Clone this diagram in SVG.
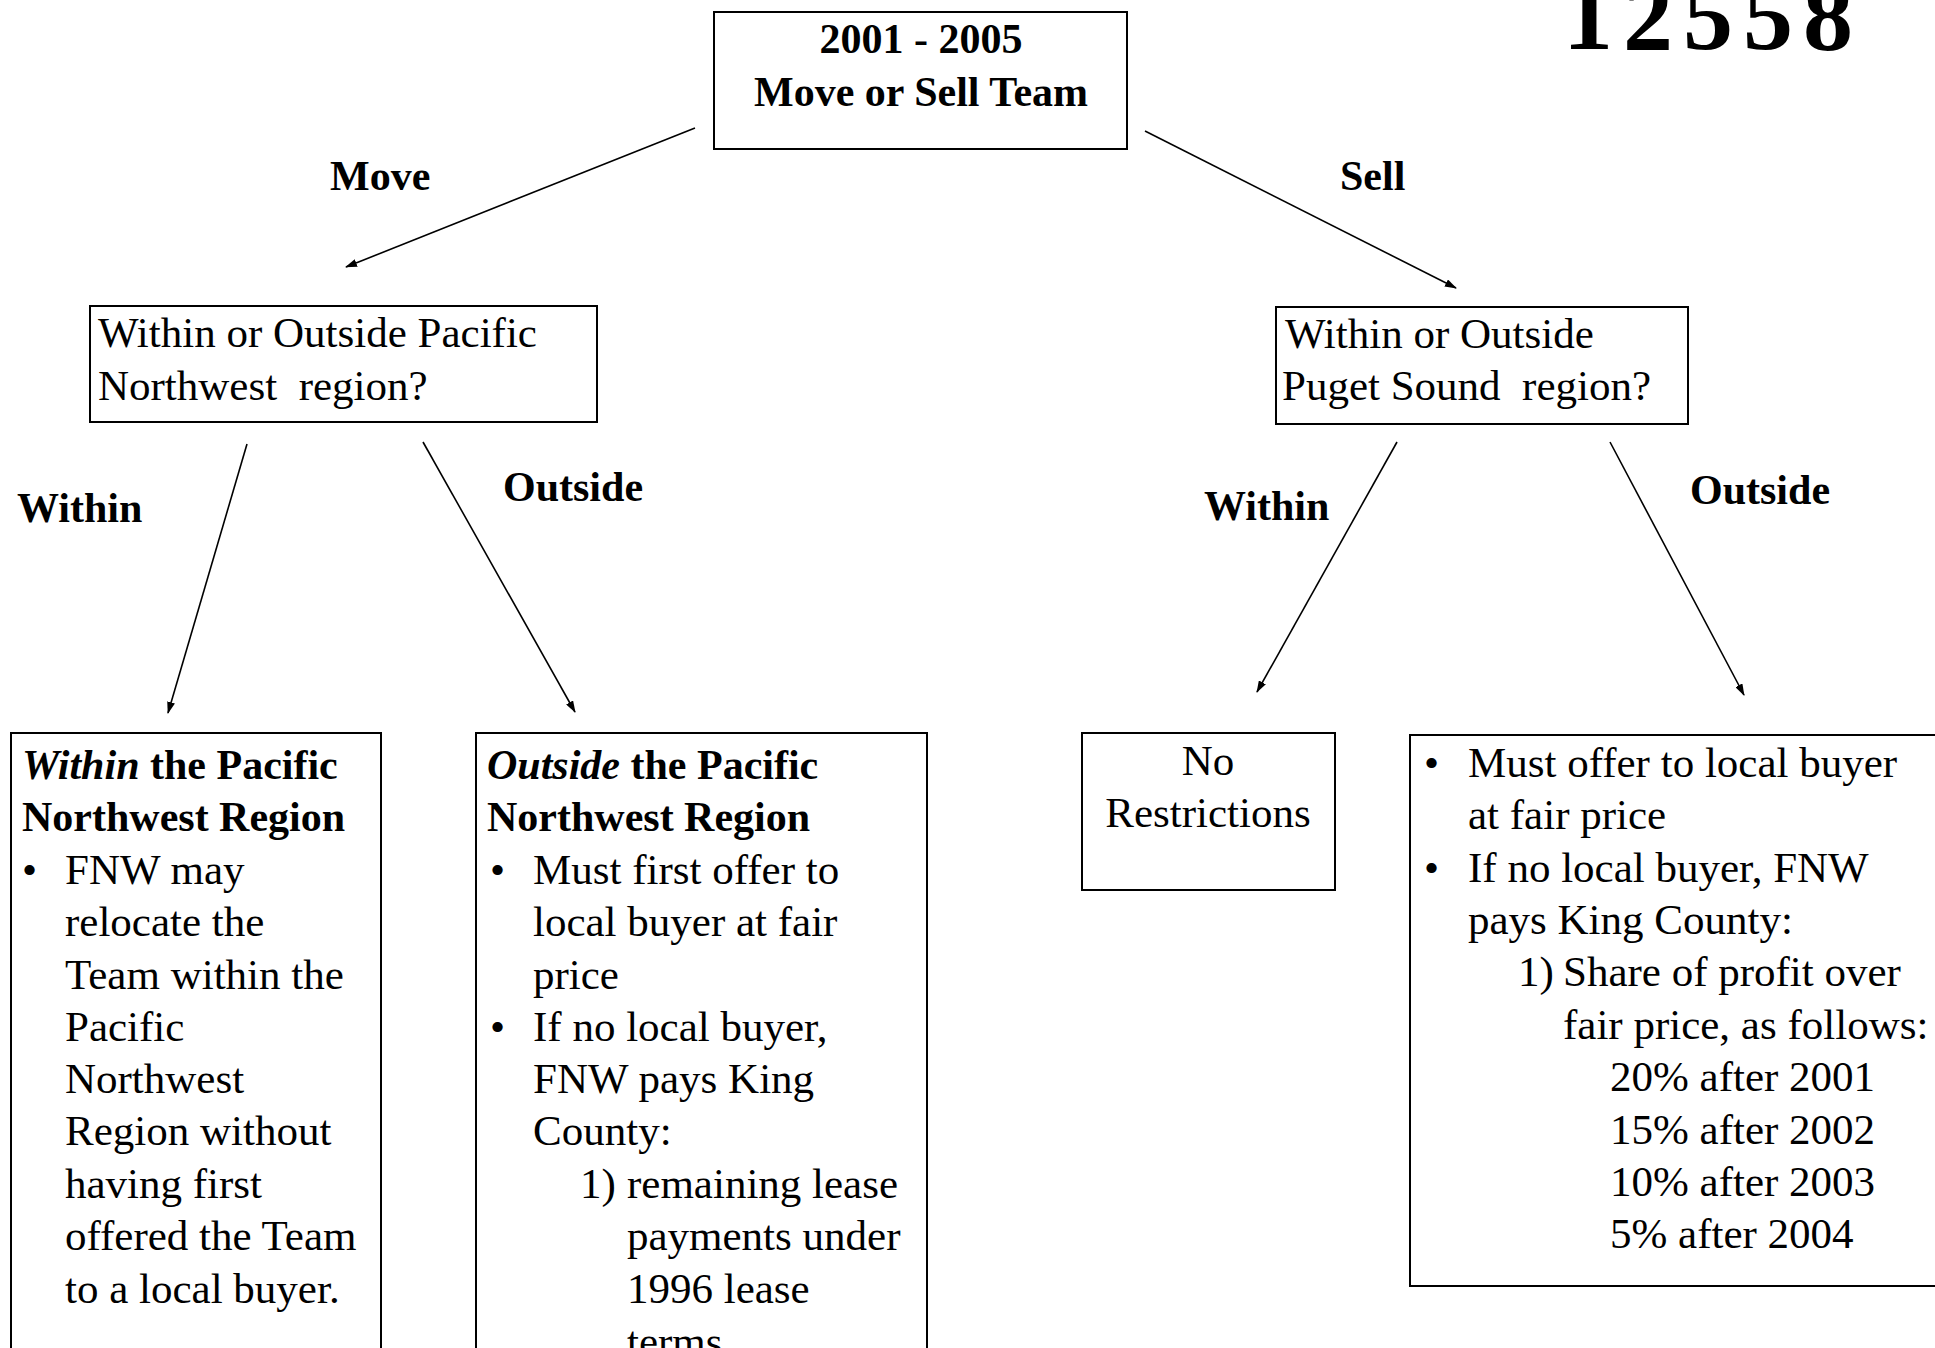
<svg xmlns="http://www.w3.org/2000/svg" width="1935" height="1348" viewBox="0 0 1935 1348">
<style>
.box{fill:none;stroke:#000;stroke-width:2}
.t{font-family:"Liberation Serif","Times New Roman",serif;font-size:43px;fill:#000}
.b{font-family:"Liberation Serif","Times New Roman",serif;font-size:42px;font-weight:bold;fill:#000}
.stamp{font-family:"Liberation Serif","Times New Roman",serif;font-size:100px;font-weight:bold;letter-spacing:10px;fill:#000}
.c{text-anchor:middle}
.conn line{stroke:#000;stroke-width:1.6}
</style>
<defs>
<marker id="ah" viewBox="0 0 12 8" refX="11" refY="4" markerWidth="12" markerHeight="8" markerUnits="userSpaceOnUse" orient="auto">
<path d="M0,0 L12,4 L0,8 z" fill="#000"/>
</marker>
</defs>
<rect width="1935" height="1348" fill="#fff"/>
<text class="stamp" x="1563" y="49">12558</text>

<g id="root">
<rect class="box" x="714" y="12" width="413" height="137"/>
<text class="b c" x="921" y="53">2001 - 2005</text>
<text class="b c" x="921" y="106">Move or Sell Team</text>
</g>

<g id="move-q">
<rect class="box" x="90" y="306" width="507" height="116"/>
<text class="t" x="98" y="347">Within or Outside Pacific</text>
<text class="t" x="98" y="400" xml:space="preserve">Northwest  region?</text>
</g>

<g id="sell-q">
<rect class="box" x="1276" y="307" width="412" height="117"/>
<text class="t" x="1285" y="348">Within or Outside</text>
<text class="t" x="1282" y="400" xml:space="preserve">Puget Sound  region?</text>
</g>

<g id="move-within">
<rect class="box" x="11" y="733" width="370" height="640"/>
<text class="b" x="22" y="779"><tspan font-style="italic">Within</tspan> the Pacific</text>
<text class="b" x="22" y="831">Northwest Region</text>
<text class="t" x="22" y="884">•</text>
<text class="t" x="65" y="884">FNW may</text>
<text class="t" x="65" y="936">relocate the</text>
<text class="t" x="65" y="989">Team within the</text>
<text class="t" x="65" y="1041">Pacific</text>
<text class="t" x="65" y="1093">Northwest</text>
<text class="t" x="65" y="1145">Region without</text>
<text class="t" x="65" y="1198">having first</text>
<text class="t" x="65" y="1250">offered the Team</text>
<text class="t" x="65" y="1303">to a local buyer.</text>
</g>

<g id="move-outside">
<rect class="box" x="476" y="733" width="451" height="640"/>
<text class="b" x="487" y="779"><tspan font-style="italic">Outside</tspan> the Pacific</text>
<text class="b" x="487" y="831">Northwest Region</text>
<text class="t" x="490" y="884">•</text>
<text class="t" x="533" y="884">Must first offer to</text>
<text class="t" x="533" y="936">local buyer at fair</text>
<text class="t" x="533" y="989">price</text>
<text class="t" x="490" y="1041">•</text>
<text class="t" x="533" y="1041">If no local buyer,</text>
<text class="t" x="533" y="1093">FNW pays King</text>
<text class="t" x="533" y="1145">County:</text>
<text class="t" x="580" y="1198">1)</text>
<text class="t" x="627" y="1198">remaining lease</text>
<text class="t" x="627" y="1250">payments under</text>
<text class="t" x="627" y="1303">1996 lease</text>
<text class="t" x="627" y="1356">terms</text>
</g>

<g id="sell-within">
<rect class="box" x="1082" y="733" width="253" height="157"/>
<text class="t c" x="1208" y="775">No</text>
<text class="t c" x="1208" y="827">Restrictions</text>
</g>

<g id="sell-outside">
<rect class="box" x="1410" y="735" width="540" height="551"/>
<text class="t" x="1424" y="777">•</text>
<text class="t" x="1468" y="777">Must offer to local buyer</text>
<text class="t" x="1468" y="829">at fair price</text>
<text class="t" x="1424" y="882">•</text>
<text class="t" x="1468" y="882">If no local buyer, FNW</text>
<text class="t" x="1468" y="934">pays King County:</text>
<text class="t" x="1518" y="986">1)</text>
<text class="t" x="1563" y="986">Share of profit over</text>
<text class="t" x="1563" y="1039">fair price, as follows:</text>
<text class="t" x="1610" y="1091">20% after 2001</text>
<text class="t" x="1610" y="1144">15% after 2002</text>
<text class="t" x="1610" y="1196">10% after 2003</text>
<text class="t" x="1610" y="1248">5% after 2004</text>
</g>

<g class="conn" id="connectors">
<line x1="695" y1="128" x2="346" y2="267" marker-end="url(#ah)"/>
<line x1="1145" y1="131" x2="1456" y2="288" marker-end="url(#ah)"/>
<line x1="247" y1="444" x2="168" y2="713" marker-end="url(#ah)"/>
<line x1="423" y1="442" x2="575" y2="712" marker-end="url(#ah)"/>
<line x1="1397" y1="442" x2="1257" y2="692" marker-end="url(#ah)"/>
<line x1="1610" y1="442" x2="1744" y2="695" marker-end="url(#ah)"/>
<text class="b" x="330" y="190">Move</text>
<text class="b" x="1340" y="190">Sell</text>
<text class="b" x="17" y="522">Within</text>
<text class="b" x="503" y="501">Outside</text>
<text class="b" x="1204" y="520">Within</text>
<text class="b" x="1690" y="504">Outside</text>
</g>
</svg>
